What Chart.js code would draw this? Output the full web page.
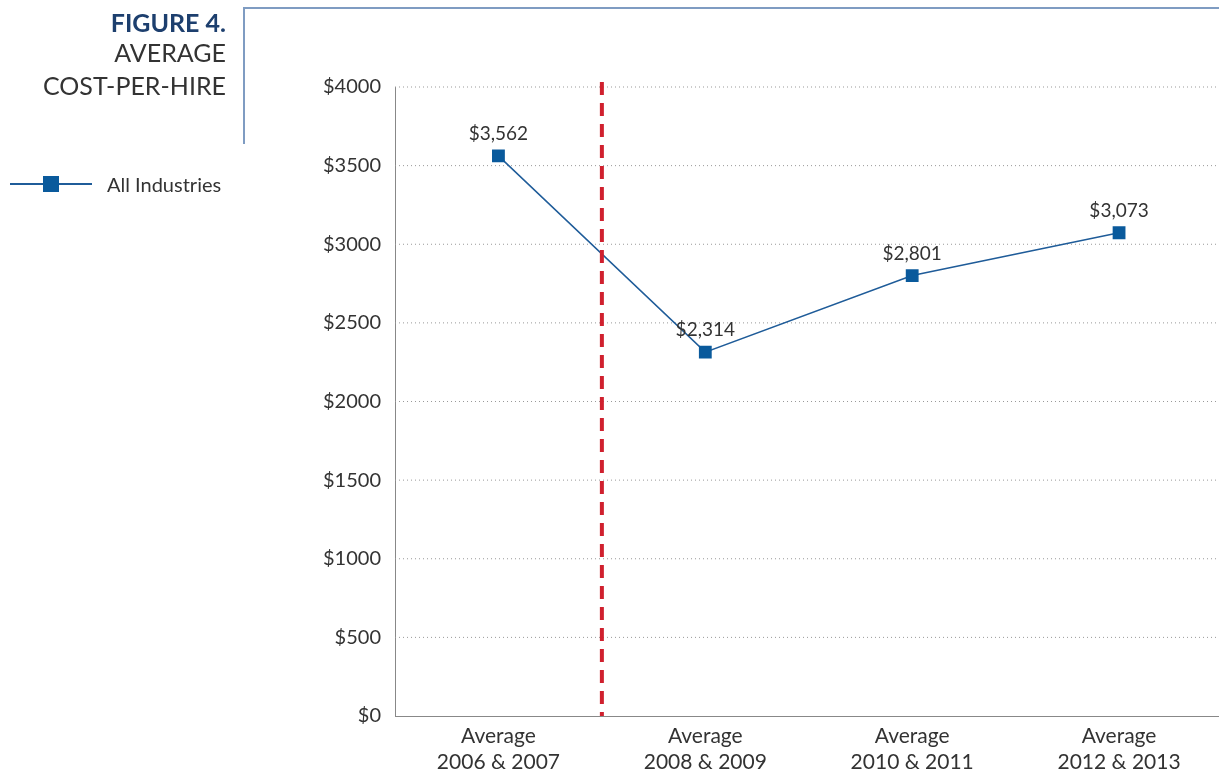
<!DOCTYPE html>
<html><head><meta charset="utf-8">
<script src="https://cdn.jsdelivr.net/npm/chart.js@4"></script>
<style>
body{margin:0;background:#fff;font-family:Lato,"Open Sans",sans-serif;overflow:hidden;}
#wrap{position:relative;width:1219px;height:776px;overflow:hidden;}
canvas{position:absolute;left:0;top:0;}
.t{position:absolute;right:993px;text-align:right;color:#333;font-size:25px;line-height:33px;}
</style></head><body>
<div id="wrap">
<canvas id="c" width="1232" height="776"></canvas>
<div class="t" style="top:6px;color:#1d3f6e;font-weight:bold;">FIGURE 4.</div>
<div class="t" style="top:36px;">AVERAGE</div>
<div class="t" style="top:69px;">COST-PER-HIRE</div>
<div style="position:absolute;left:243px;top:7px;width:2px;height:137px;background:#7f9cc2"></div>
<div style="position:absolute;left:243px;top:7px;width:976px;height:2px;background:#7f9cc2"></div>
<div style="position:absolute;left:10px;top:183px;width:82px;height:1.5px;background:#1f5c99"></div>
<div style="position:absolute;left:43px;top:176px;width:16px;height:16px;background:#0a5a9c"></div>
<div style="position:absolute;left:107px;top:172px;font-size:20px;color:#333">All Industries</div>
</div>
<script>
const categories = [['Average','2006 & 2007'],['Average','2008 & 2009'],['Average','2010 & 2011'],['Average','2012 & 2013']];
const costs = [3562, 2314, 2801, 3073];
const costLabels = ['$3,562','$2,314','$2,801','$3,073'];

const extras = {
  id: 'extras',
  afterDatasetsDraw(chart) {
    const {ctx, chartArea, scales} = chart;
    const x = (scales.x.getPixelForValue(0) + scales.x.getPixelForValue(1)) / 2;
    ctx.save();
    ctx.strokeStyle = '#d0202e'; ctx.lineWidth = 4; ctx.setLineDash([13, 8]);
    ctx.beginPath(); ctx.moveTo(x, 82); ctx.lineTo(x, chartArea.bottom); ctx.stroke();
    ctx.setLineDash([]);
    ctx.fillStyle = '#333'; ctx.font = '19px Lato, "Open Sans", sans-serif'; ctx.textAlign = 'center';
    chart.getDatasetMeta(0).data.forEach((p, i) => ctx.fillText(costLabels[i], p.x, p.y - 16));
    ctx.restore();
  }
};

new Chart(document.getElementById('c'), {
  type: 'line',
  data: { labels: categories, datasets: [{
    data: costs, borderColor: '#1f5c99', borderWidth: 1.5,
    pointStyle: 'rect', pointRadius: 8, pointBackgroundColor: '#0a5a9c', pointBorderColor: '#0a5a9c'
  }]},
  options: {
    responsive: false, animation: false,
    layout: { padding: { left: 315, top: 87, right: 0, bottom: 0 } },
    plugins: { legend: { display: false }, tooltip: { enabled: false } },
    scales: {
      x: { offset: true, afterFit: s => { s.height = 60; },
        grid: { display: false, drawTicks: false }, border: { color: '#888' },
        ticks: { color: '#333', font: { size: 21, family: 'Lato' }, padding: 8 } },
      y: { min: 0, max: 4000, afterFit: s => { s.width = 80; },
        grid: { display: false, drawTicks: false }, border: { color: '#888' },
        ticks: { stepSize: 500, color: '#333', font: { size: 20, family: 'Lato' }, padding: 14, callback: v => '$' + v } }
    }
  },
  plugins: [extras, {
    id: 'dots', beforeDatasetsDraw(chart) {
      const {ctx, chartArea, scales} = chart;
      ctx.save(); ctx.strokeStyle = '#999'; ctx.lineWidth = 1; ctx.setLineDash([1, 3]);
      for (let v = 500; v <= 4000; v += 500) { const y = scales.y.getPixelForValue(v);
        ctx.beginPath(); ctx.moveTo(chartArea.left, y); ctx.lineTo(chartArea.right, y); ctx.stroke(); }
      ctx.restore();
    }
  }]
});
</script>
</body></html>
